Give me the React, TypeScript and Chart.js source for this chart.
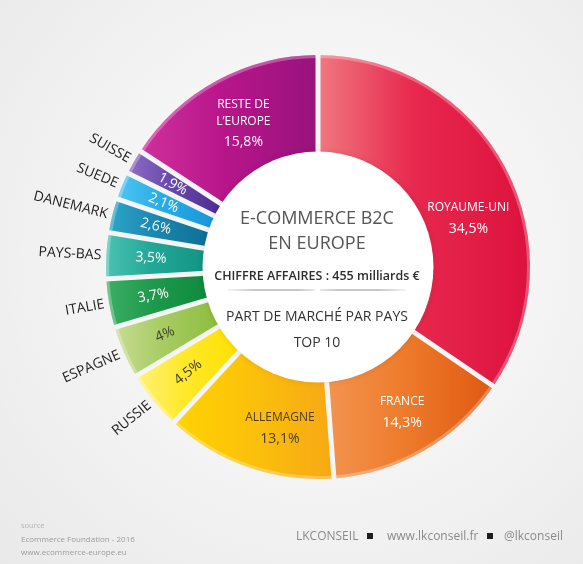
import React, { useEffect, useRef } from 'react';
import { Chart, registerables } from 'chart.js';

Chart.register(...registerables);

// ---------- data ----------
const countries = ['ROYAUME-UNI', 'FRANCE', 'ALLEMAGNE', 'RUSSIE', 'ESPAGNE', 'ITALIE', 'PAYS-BAS', 'DANEMARK', 'SUEDE', 'SUISSE', 'RESTE DE L\u2019EUROPE'];
const shares = [34.5, 14.3, 13.1, 4.5, 4, 3.7, 3.5, 2.6, 2.1, 1.9, 15.8];
// names written inside the big slices (split in lines); small slices get their name outside
const insideNames: string[][] = [['ROYAUME-UNI'], ['FRANCE'], ['ALLEMAGNE'], [], [], [], [], [], [], [], ['RESTE DE', 'L\u2019EUROPE']];
const outsideNames = ['', '', '', 'RUSSIE', 'ESPAGNE', 'ITALIE', 'PAYS-BAS', 'DANEMARK', 'SUEDE', 'SUISSE', ''];

// ---------- styles ----------
const lightColors = ['#f07880', '#f39450', '#ffd400', '#fff27a', '#c8dc92', '#3cae64', '#4cc2b2', '#2ea4c8', '#50c4f2', '#8c6cc6', '#d0309c'];
const midColors = ['#e8284e', '#ee7c2c', '#fcc20a', '#ffe92a', '#a8cc64', '#1f9a4c', '#22a898', '#1a88b0', '#28ace6', '#6a4aa8', '#b8168a'];
const darkColors = ['#dc123e', '#e05812', '#f6a815', '#ffe000', '#8cbc3c', '#0e8a3c', '#139484', '#0e6e94', '#1896da', '#4c2c90', '#98127c'];
const pctColors = ['#ffffff', '#ffffff', '#4a3c18', '#3a3a2a', '#3a3f2a', '#ffffff', '#ffffff', '#ffffff', '#ffffff', '#ffffff', '#ffffff'];
// label placement for big slices: [angle nudge in degrees, radius]
const bigPlacement: Record<number, [number, number]> = { 0: [10, 158], 1: [0, 168], 2: [-6, 166], 10: [1, 162] };

const FONT = '"Open Sans", "Noto Sans", sans-serif';
const GAP_COLOR = '#f5f5f5';
const TAU = Math.PI * 2;

const fmtPct = (v: number) => String(v).replace('.', ',') + '%';

function sliceXRange(cx: number, rIn: number, rOut: number, a0: number, a1: number) {
  let min = Infinity;
  let max = -Infinity;
  const n = 40;
  for (let i = 0; i <= n; i++) {
    const a = a0 + ((a1 - a0) * i) / n;
    for (const r of [rIn, rOut]) {
      const x = cx + r * Math.cos(a);
      if (x < min) min = x;
      if (x > max) max = x;
    }
  }
  return [min, max];
}

const labelPlugin = {
  id: 'sliceLabels',
  afterDatasetsDraw(chart: any) {
    const meta = chart.getDatasetMeta(0);
    const c: CanvasRenderingContext2D = chart.ctx;
    const arcs = meta.data;
    if (!arcs.length) return;
    const p0 = arcs[0].getProps(['x', 'y', 'innerRadius', 'outerRadius'], true);
    const cx = p0.x;
    const cy = p0.y;
    c.save();
    // soft highlight along the outer rim
    arcs.forEach((arc: any) => {
      const { startAngle, endAngle, outerRadius } = arc.getProps(['startAngle', 'endAngle', 'outerRadius'], true);
      c.beginPath();
      c.arc(cx, cy, outerRadius - 1.5, startAngle, endAngle);
      c.strokeStyle = 'rgba(255,255,255,0.28)';
      c.lineWidth = 3;
      c.stroke();
    });
    // gaps between slices
    c.strokeStyle = GAP_COLOR;
    c.lineWidth = 5;
    arcs.forEach((arc: any) => {
      const { startAngle, innerRadius, outerRadius } = arc.getProps(['startAngle', 'innerRadius', 'outerRadius'], true);
      c.beginPath();
      c.moveTo(cx + (innerRadius - 2) * Math.cos(startAngle), cy + (innerRadius - 2) * Math.sin(startAngle));
      c.lineTo(cx + (outerRadius + 1) * Math.cos(startAngle), cy + (outerRadius + 1) * Math.sin(startAngle));
      c.stroke();
    });
    // white hole
    c.save();
    c.shadowColor = 'rgba(0,0,0,0.10)';
    c.shadowBlur = 6;
    c.beginPath();
    c.arc(cx, cy, p0.innerRadius + 1, 0, TAU);
    c.fillStyle = '#ffffff';
    c.fill();
    c.restore();

    c.textBaseline = 'middle';
    arcs.forEach((arc: any, i: number) => {
      const { startAngle, endAngle, outerRadius, innerRadius } = arc.getProps(['startAngle', 'endAngle', 'outerRadius', 'innerRadius'], true);
      const mid = (startAngle + endAngle) / 2;
      const pct = fmtPct(shares[i]);
      const names = insideNames[i];
      if (names.length) {
        const [nudge, r] = bigPlacement[i] || [0, 162];
        const a = mid + (nudge * Math.PI) / 180;
        const lx = cx + r * Math.cos(a);
        const ly = cy + r * Math.sin(a);
        const total = (names.length - 1) * 17 + 21;
        let y = ly - total / 2;
        c.textAlign = 'center';
        c.fillStyle = pctColors[i];
        c.font = `12px ${FONT}`;
        names.forEach((nm) => {
          c.fillText(nm, lx, y);
          y += 17;
        });
        y += 4;
        c.font = `14px ${FONT}`;
        c.fillText(pct, lx, y);
      } else {
        const rot = mid + Math.PI;
        const rp = (innerRadius + outerRadius) / 2 + 4;
        // percentage inside the ring
        c.save();
        c.translate(cx + rp * Math.cos(mid), cy + rp * Math.sin(mid));
        c.rotate(rot);
        c.textAlign = 'center';
        c.fillStyle = pctColors[i];
        c.font = `14px ${FONT}`;
        c.fillText(pct, 0, 0);
        c.restore();
        // name outside
        const ro = outerRadius + 5;
        c.save();
        c.translate(cx + ro * Math.cos(mid), cy + ro * Math.sin(mid));
        c.rotate(rot);
        c.textAlign = 'right';
        c.fillStyle = '#1e1e1e';
        c.font = `14px ${FONT}`;
        c.fillText(outsideNames[i], 0, 0);
        c.restore();
      }
    });
    c.restore();
  },
};

export default function App() {
  const ref = useRef<HTMLCanvasElement>(null);

  useEffect(() => {
    const total = shares.reduce((a, b) => a + b, 0);
    const chart = new Chart(ref.current as HTMLCanvasElement, {
      type: 'doughnut',
      data: {
        labels: countries,
        datasets: [
          {
            data: shares,
            borderWidth: 0,
            backgroundColor: (ctx: any) => {
              const i = ctx.dataIndex;
              const ch = ctx.chart;
              const area = ch.chartArea;
              if (!area || ctx.type !== 'data') return midColors[i];
              const ctrl: any = ch.getDatasetMeta(0).controller;
              const cx = (area.left + area.right) / 2;
              const rOut = ctrl.outerRadius || Math.min(area.width, area.height) / 2;
              const rIn = ctrl.innerRadius || rOut * 0.54;
              let acc = 0;
              for (let k = 0; k < i; k++) acc += shares[k];
              const a0 = -Math.PI / 2 + (TAU * acc) / total;
              const a1 = a0 + (TAU * shares[i]) / total;
              const [x0, x1] = sliceXRange(cx, rIn, rOut, a0, a1);
              const g = ch.ctx.createLinearGradient(x0, 0, x1 + 0.01, 0);
              g.addColorStop(0, lightColors[i]);
              g.addColorStop(0.45, midColors[i]);
              g.addColorStop(1, darkColors[i]);
              return g;
            },
          },
        ],
      },
      options: {
        responsive: false,
        animation: false,
        cutout: '54%',
        rotation: 0,
        layout: { padding: { left: 106, top: 55, right: 53, bottom: 85 } },
        plugins: { legend: { display: false }, tooltip: { enabled: false } },
        events: [],
      },
      plugins: [labelPlugin],
    } as any);
    return () => chart.destroy();
  }, []);

  const centerX = 317;
  const line = (text: string, cy: number, size: number, color: string, weight = 400) => (
    <div
      style={{
        position: 'absolute',
        left: centerX - 150,
        width: 300,
        top: cy - 12,
        height: 24,
        lineHeight: '24px',
        textAlign: 'center',
        fontSize: size,
        color,
        fontWeight: weight,
        whiteSpace: 'nowrap',
      }}
    >
      {text}
    </div>
  );

  const small = (text: string, cy: number, size: number, color: string) => (
    <div style={{ position: 'absolute', left: 21, top: cy - 7, height: 14, lineHeight: '14px', fontSize: size, color, whiteSpace: 'nowrap' }}>{text}</div>
  );

  return (
    <div
      style={{
        position: 'absolute',
        left: 0,
        top: 0,
        width: 583,
        height: 564,
        overflow: 'hidden',
        background: 'radial-gradient(circle at 55% 45%, #fdfdfd 0%, #f4f4f4 50%, #e9e9e9 100%)',
        fontFamily: FONT,
      }}
    >
      <canvas ref={ref} width={583} height={564} style={{ position: 'absolute', left: 0, top: 0 }} />
      {line('E-COMMERCE B2C', 217, 18, '#555555')}
      {line('EN EUROPE', 242, 18, '#555555')}
      {line('CHIFFRE AFFAIRES : 455 milliards \u20AC', 276, 12.5, '#2e2e2e', 600)}
      <div style={{ position: 'absolute', left: 228, top: 289, width: 87, height: 2, background: 'linear-gradient(90deg, rgba(200,200,200,0.2), #c8c8c8 30%, #c8c8c8 80%, rgba(200,200,200,0.4))' }} />
      <div style={{ position: 'absolute', left: 320, top: 289, width: 86, height: 2, background: 'linear-gradient(90deg, rgba(200,200,200,0.4), #c8c8c8 20%, #c8c8c8 70%, rgba(200,200,200,0.2))' }} />
      {line('PART DE MARCH\u00C9 PAR PAYS', 316, 14, '#333333')}
      {line('TOP 10', 342, 14, '#333333')}

      {small('source', 525, 7.5, '#b4b4b4')}
      {small('Ecommerce Foundation - 2016', 539, 8, '#9c9c9c')}
      {small('www.ecommerce-europe.eu', 552, 8, '#9c9c9c')}

      <div style={{ position: 'absolute', left: 296, top: 528, height: 16, lineHeight: '16px', fontSize: 12, color: '#8a8a8a', whiteSpace: 'nowrap' }}>LKCONSEIL</div>
      <div style={{ position: 'absolute', left: 367, top: 533, width: 6, height: 6, background: '#1e1e1e' }} />
      <div style={{ position: 'absolute', left: 387, top: 528, height: 16, lineHeight: '16px', fontSize: 12, color: '#8a8a8a', whiteSpace: 'nowrap' }}>www.lkconseil.fr</div>
      <div style={{ position: 'absolute', left: 487, top: 533, width: 6, height: 6, background: '#1e1e1e' }} />
      <div style={{ position: 'absolute', left: 504, top: 528, height: 16, lineHeight: '16px', fontSize: 12, color: '#8a8a8a', whiteSpace: 'nowrap' }}>@lkconseil</div>
    </div>
  );
}
